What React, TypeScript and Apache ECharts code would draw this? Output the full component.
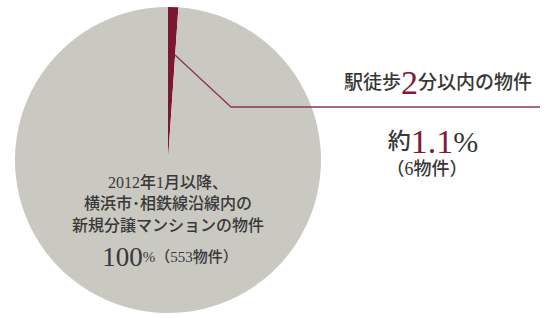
import React, { useEffect, useRef } from "react";
import * as echarts from "echarts";

const categories = ["駅徒歩2分以内の物件", "その他の物件"];
const counts = [6, 547];
const colors = ["#7a1832", "#c9c8c1"];
const totalLabelLines = ["2012年1月以降、", "横浜市･相鉄線沿線内の", "新規分譲マンションの物件"];

const SERIF = "'Liberation Serif', 'DejaVu Serif', 'Noto Sans CJK JP', serif";
const TEXT = "#383838";
const MAROON = "#7e1b38";

export default function App() {
  const ref = useRef<HTMLDivElement>(null);
  useEffect(() => {
    document.body.style.margin = "0";
    const chart = echarts.init(ref.current!, undefined, { renderer: "svg" });
    const total = counts.reduce((a, b) => a + b, 0);
    const pct = ((counts[0] / total) * 100).toFixed(1);
    chart.setOption({
      animation: false,
      backgroundColor: "#ffffff",
      series: [
        {
          type: "pie",
          center: [168, 160],
          radius: 153,
          startAngle: 90,
          clockwise: true,
          z: 1,
          label: { show: false },
          labelLine: { show: false },
          emphasis: { disabled: true },
          silent: true,
          data: categories.map((c, i) => ({ name: c, value: counts[i], itemStyle: { color: colors[i] } })),
        },
      ],
      graphic: {
        elements: [
          {
            type: "polyline",
            z: 100,
            shape: { points: [[175, 55], [231, 107], [540, 107]] },
            style: { stroke: "#8c3556", lineWidth: 1.3, fill: null },
            silent: true,
          },
          {
            type: "text",
            z: 100,
            x: 438,
            y: 99,
            style: {
              text: "{a|駅徒歩}{b|2}{a|分以内の物件}",
              textAlign: "center",
              textVerticalAlign: "bottom",
              rich: {
                a: { font: `500 19px ${SERIF}`, fill: TEXT, color: TEXT },
                b: { font: `34px ${SERIF}`, fill: MAROON, color: MAROON },
              },
            },
          },
          {
            type: "text",
            z: 100,
            x: 433,
            y: 158,
            style: {
              text: `{a|約}{b|${pct}}{c|%}`,
              textAlign: "center",
              textVerticalAlign: "bottom",
              rich: {
                a: { font: `500 23px ${SERIF}`, fill: TEXT, color: TEXT },
                b: { font: `34px ${SERIF}`, fill: MAROON, color: MAROON },
                c: { font: `30px ${SERIF}`, fill: TEXT, color: TEXT },
              },
            },
          },
          {
            type: "text",
            z: 100,
            x: 427,
            y: 169,
            style: {
              text: `（${counts[0]}物件）`,
              font: `500 18px ${SERIF}`,
              fill: TEXT,
              textAlign: "center",
              textVerticalAlign: "middle",
            },
          },
          ...totalLabelLines.map((t, i) => ({
            type: "text",
            z: 100,
            x: 168,
            y: 182 + i * 21.5,
            style: {
              text: t,
              font: `500 16px ${SERIF}`,
              fill: TEXT,
              textAlign: "center",
              textVerticalAlign: "middle",
            },
          })),
          {
            type: "text",
            z: 100,
            x: 170,
            y: 270,
            style: {
              text: `{a|100}{b|%（${total}物件）}`,
              textAlign: "center",
              textVerticalAlign: "bottom",
              rich: {
                a: { font: `27px ${SERIF}`, fill: TEXT, color: TEXT },
                b: { font: `500 15px ${SERIF}`, fill: TEXT, color: TEXT },
              },
            },
          },
        ],
      },
    });
    return () => chart.dispose();
  }, []);
  return <div ref={ref} style={{ width: 550, height: 318 }} />;
}
